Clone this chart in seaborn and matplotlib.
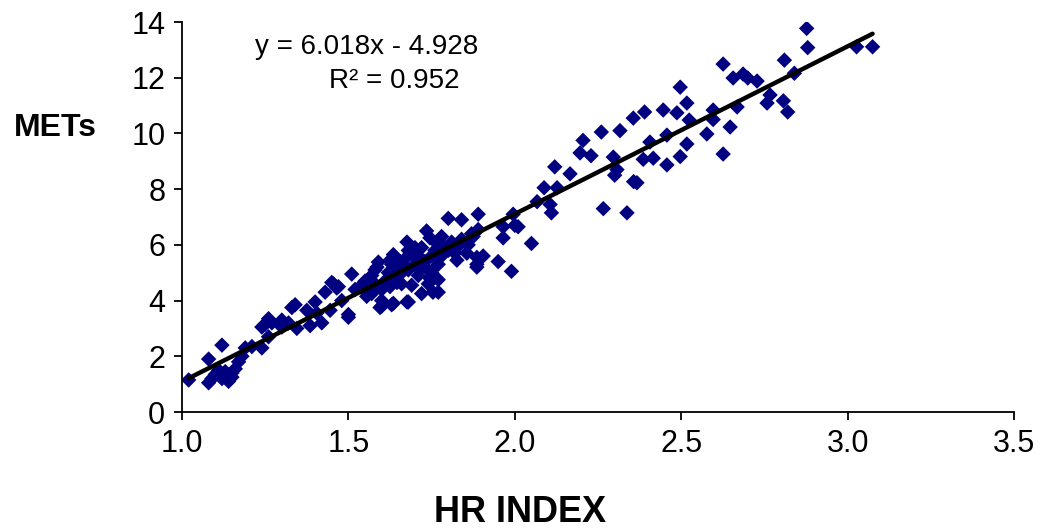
import numpy as np
import pandas as pd
import seaborn as sns
import matplotlib
matplotlib.use('Agg')
import matplotlib.pyplot as plt

# data
hr_index = [
    1.02, 1.08, 1.12, 1.08, 1.10, 1.11, 1.13, 1.14, 1.15, 1.16, 1.17, 1.18, 1.19, 1.21, 1.24, 1.09, 1.12, 1.15, 1.26,
    1.24, 1.25, 1.26, 1.27, 1.30, 1.30, 1.32, 1.33, 1.34, 1.345, 1.375, 1.385, 1.40, 1.405, 1.42, 1.43, 1.445, 1.45,
    1.455, 1.465, 1.47, 1.48, 1.50, 1.50, 1.51, 1.52,
    1.535, 1.545, 1.555, 1.57, 1.575, 1.58, 1.586, 1.59, 1.595, 1.60, 1.60, 1.60, 1.625, 1.625, 1.625, 1.63, 1.635,
    1.635, 1.646, 1.655, 1.66, 1.676, 1.676, 1.68, 1.69, 1.70, 1.71, 1.72, 1.735, 1.745, 1.745, 1.754, 1.766, 1.77,
    1.80, 1.80, 1.826, 1.826, 1.84, 1.856, 1.875, 1.886, 1.886, 1.886, 1.89, 1.89, 1.905, 1.95, 1.965, 1.965, 1.99,
    1.995, 2.0, 2.01, 2.05,
    1.62, 1.64, 1.65, 1.67, 1.68, 1.69, 1.70, 1.71, 1.72, 1.73, 1.74, 1.75, 1.76, 1.77, 1.78, 1.79, 1.81, 1.82, 1.84,
    1.86, 1.87, 1.55, 1.57, 1.58, 1.61, 1.63, 1.66, 1.68, 1.72, 1.75, 1.78, 1.74, 1.77,
    2.067, 2.088, 2.106, 2.11, 2.12, 2.127, 2.166, 2.196, 2.205, 2.229, 2.26, 2.266,
    2.296, 2.30, 2.307, 2.316, 2.337, 2.356, 2.357, 2.367, 2.386, 2.39, 2.406, 2.416, 2.446, 2.457, 2.457, 2.487,
    2.497, 2.497, 2.517, 2.517, 2.524, 2.577, 2.596, 2.596, 2.626, 2.626, 2.647, 2.656, 2.668, 2.686, 2.70, 2.728,
    2.758, 2.767, 2.807, 2.81, 2.82, 2.84, 2.877, 2.88, 3.027, 3.075,
]
mets = [
    1.15, 1.9, 2.4, 1.05, 1.35, 1.5, 1.45, 1.1, 1.25, 1.55, 1.8, 2.0, 2.3, 2.35, 2.3, 1.2, 1.2, 1.4, 2.7,
    3.05, 3.15, 3.35, 3.2, 3.3, 3.05, 3.2, 3.75, 3.85, 3.0, 3.65, 3.1, 3.95, 3.55, 3.2, 4.3, 3.65, 4.65,
    4.6, 4.45, 4.5, 4.0, 3.4, 3.5, 4.95, 4.4,
    4.5, 4.4, 4.15, 4.25, 4.5, 5.1, 5.2, 5.38, 3.75, 4.0, 4.4, 3.8, 5.45, 4.99, 4.5, 3.85, 5.65,
    3.9, 4.65, 5.4, 5.0, 6.1, 3.95, 3.95, 4.55, 5.9, 4.9, 4.25, 6.5, 6.25, 4.8, 4.3, 6.05, 4.75,
    6.95, 5.8, 5.9, 5.45, 6.9, 5.7, 6.3, 5.3, 5.55, 5.2, 7.1, 6.55, 5.6, 5.4, 6.65, 6.25, 5.05,
    7.1, 6.7, 6.65, 6.05,
    5.0, 4.8, 5.2, 5.5, 5.1, 5.7, 5.3, 5.6, 5.9, 5.4, 5.1, 5.6, 5.8, 5.3, 5.6, 5.9, 6.1, 5.7, 6.2,
    6.0, 6.4, 4.7, 4.9, 4.6, 4.7, 5.3, 4.6, 5.8, 5.2, 5.0, 6.3, 4.6, 4.3,
    7.55, 8.05, 7.45, 7.15, 8.8, 8.05, 8.55, 9.3, 9.75, 9.2, 10.05, 7.3,
    9.15, 8.5, 8.7, 10.1, 7.15, 10.55, 8.27, 8.23, 9.07, 10.77, 9.69, 9.11, 10.84, 9.94, 8.87, 10.74,
    11.66, 9.17, 11.09, 9.62, 10.48, 9.98, 10.84, 10.5, 12.49, 9.26, 10.23, 11.99, 10.95, 12.13, 11.99, 11.88,
    11.09, 11.38, 11.17, 12.63, 10.77, 12.16, 13.77, 13.08, 13.11, 13.11,
]

slope = 6.018
intercept = -4.928
r_squared = 0.952

x_ticks = [1.0, 1.5, 2.0, 2.5, 3.0, 3.5]
y_ticks = [0, 2, 4, 6, 8, 10, 12, 14]

df = pd.DataFrame({'hr': hr_index, 'mets': mets})

sns.set_style('ticks')
plt.rcParams['font.family'] = ['Liberation Sans', 'DejaVu Sans']
plt.rcParams['text.color'] = 'black'
plt.rcParams['xtick.color'] = 'black'
plt.rcParams['ytick.color'] = 'black'
plt.rcParams['axes.edgecolor'] = 'black'

fig = plt.figure(figsize=(10.52, 5.31), dpi=100)
ax = fig.add_axes([182 / 1052, 119 / 531, 832 / 1052, 390 / 531])

sns.scatterplot(data=df, x='hr', y='mets', marker='D', color='#000080',
                s=62, edgecolor='none', ax=ax, zorder=2)

# trend line from the printed fit
line_x = np.array([min(hr_index), max(hr_index)])
fit = pd.DataFrame({'hr': line_x, 'mets': slope * line_x + intercept})
sns.lineplot(data=fit, x='hr', y='mets', color='black', lw=3.2, ax=ax, zorder=3)

ax.set_xlim(1.0, 3.5)
ax.set_ylim(0, 14)
ax.set_xticks(x_ticks)
ax.set_xticklabels(['{:.1f}'.format(t) for t in x_ticks])
ax.set_yticks(y_ticks)
ax.tick_params(axis='both', labelsize=22, length=6, width=1.3, color='black',
               labelcolor='black', direction='out')
ax.tick_params(axis='x', pad=6)
ax.tick_params(axis='y', pad=6)
ax.set_xlabel('')
ax.set_ylabel('')
sns.despine(ax=ax)
for side in ['left', 'bottom']:
    ax.spines[side].set_linewidth(1.3)
    ax.spines[side].set_color('black')

fig.text(14 / 1052, 1 - 128 / 531, 'METs', fontsize=23, fontweight='bold', ha='left', va='center')
fig.text(520 / 1052, 1 - 513 / 531, 'HR INDEX', fontsize=26, fontweight='bold', ha='center', va='center')
fig.text(367 / 1052, 1 - 47 / 531, 'y = {:.3f}x - {:.3f}'.format(slope, -intercept),
         fontsize=20, ha='center', va='center')
fig.text(394 / 1052, 1 - 81 / 531, 'R² = {:.3f}'.format(r_squared),
         fontsize=20, ha='center', va='center')

fig.savefig('out.png', dpi=100)
